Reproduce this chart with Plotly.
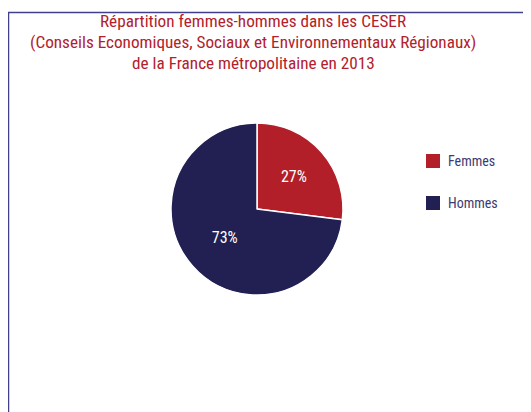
import plotly.graph_objects as go

# Données
labels = ["Femmes", "Hommes"]
values = [27, 73]
colors = ["#b31f29", "#221f52"]
title_lines = [
    "Répartition femmes-hommes dans les CESER",
    "(Conseils Economiques, Sociaux et Environnementaux Régionaux)",
    "de la France métropolitaine en 2013",
]

# la page ajoute 8 px de marge autour du graphique : on compense
OFF = 8
W, H = 531 - OFF, 412 - OFF
font_name = "Liberation Sans Narrow, Roboto Condensed, Arial Narrow, sans-serif"
frame_color = "#3f418a"


def px(x):
    return (x - OFF) / W


def py(y):
    return 1 - (y - OFF) / H


fig = go.Figure()

fig.add_trace(go.Pie(
    labels=labels,
    values=values,
    sort=False,
    direction="clockwise",
    rotation=0,
    marker=dict(colors=colors, line=dict(color="white", width=1.5)),
    textinfo="percent",
    textposition="inside",
    insidetextfont=dict(color="white", size=16, family=font_name),
    domain=dict(x=[px(257 - 86), px(257 + 86)], y=[py(295), py(123)]),
    showlegend=False,
    hoverinfo="label+percent",
))

# cadre : rectangle dont seuls les bords haut et gauche tombent dans la page
shapes = [
    dict(type="rect", xref="paper", yref="paper", layer="below",
         x0=px(8.5), x1=px(526.5), y0=-0.2, y1=py(12.5),
         line=dict(color=frame_color, width=1.5), fillcolor="rgba(0,0,0,0)"),
]

annotations = []

# légende dessinée à la main (carré + texte)
leg_y = [161, 203]
for lab, col, yy in zip(labels, colors, leg_y):
    shapes.append(dict(type="rect", xref="paper", yref="paper",
                       x0=px(426), x1=px(440), y0=py(yy + 7), y1=py(yy - 7),
                       fillcolor=col, line=dict(width=0)))
    annotations.append(dict(text=lab, xref="paper", yref="paper", x=px(446), y=py(yy),
                            xanchor="left", yanchor="middle", showarrow=False,
                            font=dict(size=14, color="#3c3a70", family=font_name)))

# titre : une annotation par ligne pour régler l'interligne
for line, yy in zip(title_lines, [21, 42, 63]):
    annotations.append(dict(
        text=line, xref="paper", yref="paper", x=px(253), y=py(yy),
        xanchor="center", yanchor="middle", showarrow=False,
        font=dict(size=17.2, color="#b3202b", family=font_name),
    ))

fig.update_layout(
    width=W, height=H,
    margin=dict(l=0, r=0, t=0, b=0),
    paper_bgcolor="white",
    shapes=shapes,
    annotations=annotations,
)

fig.write_html("out.html")
